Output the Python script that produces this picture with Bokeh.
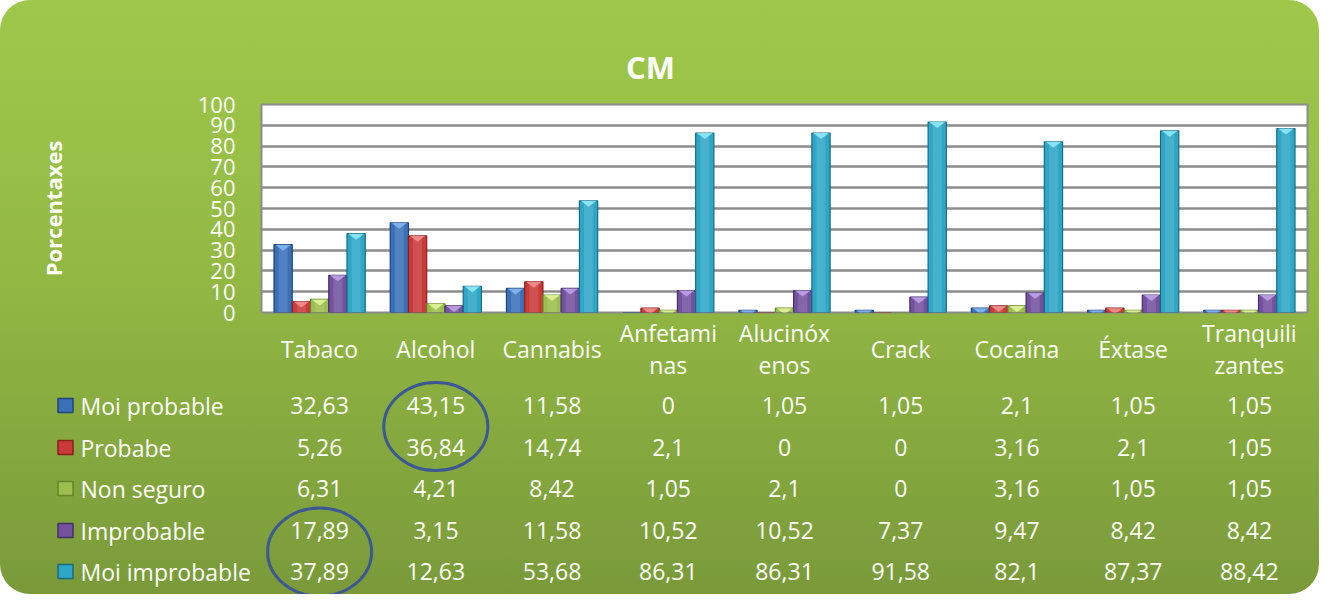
from bokeh.plotting import figure
from bokeh.models import ColumnDataSource, FactorRange, Range1d, FixedTicker
from bokeh.transform import dodge
from bokeh.core.properties import value
from bokeh.embed import file_html
from bokeh.resources import INLINE

# ---------------- data ----------------
categories = ["Tabaco", "Alcohol", "Cannabis", "Anfetaminas", "Alucinóxenos",
              "Crack", "Cocaína", "Éxtase", "Tranquilizantes"]
category_labels = ["Tabaco", "Alcohol", "Cannabis", "Anfetami\nnas", "Alucinóx\nenos",
                   "Crack", "Cocaína", "Éxtase", "Tranquili\nzantes"]
series_names = ["Moi probable", "Probabe", "Non seguro", "Improbable", "Moi improbable"]
moi_probable = [32.63, 43.15, 11.58, 0, 1.05, 1.05, 2.1, 1.05, 1.05]
probabe = [5.26, 36.84, 14.74, 2.1, 0, 0, 3.16, 2.1, 1.05]
non_seguro = [6.31, 4.21, 8.42, 1.05, 2.1, 0, 3.16, 1.05, 1.05]
improbable = [17.89, 3.15, 11.58, 10.52, 10.52, 7.37, 9.47, 8.42, 8.42]
moi_improbable = [37.89, 12.63, 53.68, 86.31, 86.31, 91.58, 82.1, 87.37, 88.42]
y_ticks = [0, 10, 20, 30, 40, 50, 60, 70, 80, 90, 100]
title_text = "CM"
y_title = "Porcentaxes"

series = [moi_probable, probabe, non_seguro, improbable, moi_improbable]
colors = ["#3a70b8", "#c93a39", "#9dbd4e", "#74519f", "#2ea6c6"]
edges = ["#1e4478", "#872120", "#66852a", "#46306a", "#1a6a82"]
lights = ["#86b8f2", "#f39492", "#e2f79a", "#c2a4ea", "#97ecfb"]

# ---------------- layout ----------------
W, H = 1319, 594
FL, FT, FR, FB = 261, 104, 1307, 312
PPU = (FB - FT) / 100.0
CW = (FR - FL) / len(categories)


def ydata(py):
    return (FB - py) / PPU


def xdata(px):
    return (px - FL) / CW


FONT = "Open Sans"

p = figure(width=W, height=H,
           x_range=FactorRange(factors=categories, range_padding=0),
           y_range=Range1d(0, 100),
           output_backend="svg", toolbar_location=None,
           min_border_left=FL, min_border_right=W - FR,
           min_border_top=FT, min_border_bottom=H - FB)

p.styles = {"background": "linear-gradient(to bottom, #9fc84b 0%, #93b944 45%, #7a9a3a 100%)",
            "border-radius": "30px"}
p.border_fill_color = None
p.background_fill_color = "white"
p.outline_line_color = "#8c8c8c"
p.outline_line_width = 2

p.xaxis.visible = False
p.xgrid.visible = False
yax = p.yaxis[0]
yax.ticker = FixedTicker(ticks=y_ticks)
yax.axis_line_color = None
yax.major_tick_line_color = None
yax.minor_tick_line_color = None
yax.major_label_text_color = "white"
yax.major_label_text_font = FONT
yax.major_label_text_font_size = "22px"
yax.major_label_standoff = 20
yax.axis_label = y_title
yax.axis_label_text_color = "white"
yax.axis_label_text_font = FONT
yax.axis_label_text_font_style = "bold"
yax.axis_label_text_font_size = "22px"
yax.axis_label_standoff = 127
p.ygrid.grid_line_color = "#8c8c8c"
p.ygrid.grid_line_width = 2.5

# ---------------- bars ----------------
src = ColumnDataSource(dict(cat=categories, **{f"s{i}": s for i, s in enumerate(series)}))
bw = 0.157
offsets = [(i - 2) * bw for i in range(5)]
depth = 6 / PPU
for i in range(5):
    p.vbar(x=dodge("cat", offsets[i], range=p.x_range), top=f"s{i}", width=bw, source=src,
           fill_color=colors[i], line_color=edges[i], line_width=1.2)
    p.vbar(x=dodge("cat", offsets[i], range=p.x_range), top=f"s{i}", width=bw * 0.5, source=src,
           fill_color="white", fill_alpha=0.12, line_color=None)
    xs, ys = [], []
    for k, v in enumerate(series[i]):
        if v <= 0:
            continue
        cx = k + 0.5 + offsets[i]
        xs.append([cx - bw / 2 + 0.01, cx + bw / 2 - 0.01, cx])
        ys.append([v, v, v - depth])
    p.patches(xs=xs, ys=ys, fill_color=lights[i], fill_alpha=0.85, line_color=None)

# ---------------- texts (overlay-level glyphs, drawn outside the frame) ----------------
txt = dict(text_color="white", text_font=value(FONT), level="overlay")

p.text(x=[xdata(650)], y=[ydata(66)], text=[title_text], text_align="center",
       text_baseline="middle", text_font_style="bold", text_font_size="31px", **txt)

p.text(x=categories, y=[ydata(348)] * len(categories), text=category_labels,
       text_align="center", text_baseline="middle", text_font_size="23px",
       text_line_height=1.0, **txt)

row_py = [405, 447, 488, 530, 571]


def fmt(v):
    return f"{v:g}".replace(".", ",")


for r in range(5):
    p.text(x=categories, y=[ydata(row_py[r])] * len(categories),
           text=[fmt(v) for v in series[r]], text_align="center",
           text_baseline="middle", text_font_size="23px", **txt)

p.text(x=[xdata(80)] * 5, y=[ydata(v) for v in row_py], text=series_names,
       text_align="left", text_baseline="middle", text_font_size="23px", **txt)

p.rect(x=[xdata(65)] * 5, y=[ydata(v) for v in row_py], width=15, height=14,
       width_units="screen", height_units="screen", fill_color=colors, line_color=edges,
       line_width=1.5, level="overlay")

# circled cells
p.ellipse(x=["Alcohol", "Tabaco"],
          y=[ydata((row_py[0] + row_py[1]) / 2), ydata((row_py[3] + row_py[4]) / 2 + 1)],
          width=104, height=88, width_units="screen", height_units="screen",
          fill_color=None, line_color="#3b5894", line_width=3, level="overlay")

open("out.html", "w").write(file_html(p, INLINE))
